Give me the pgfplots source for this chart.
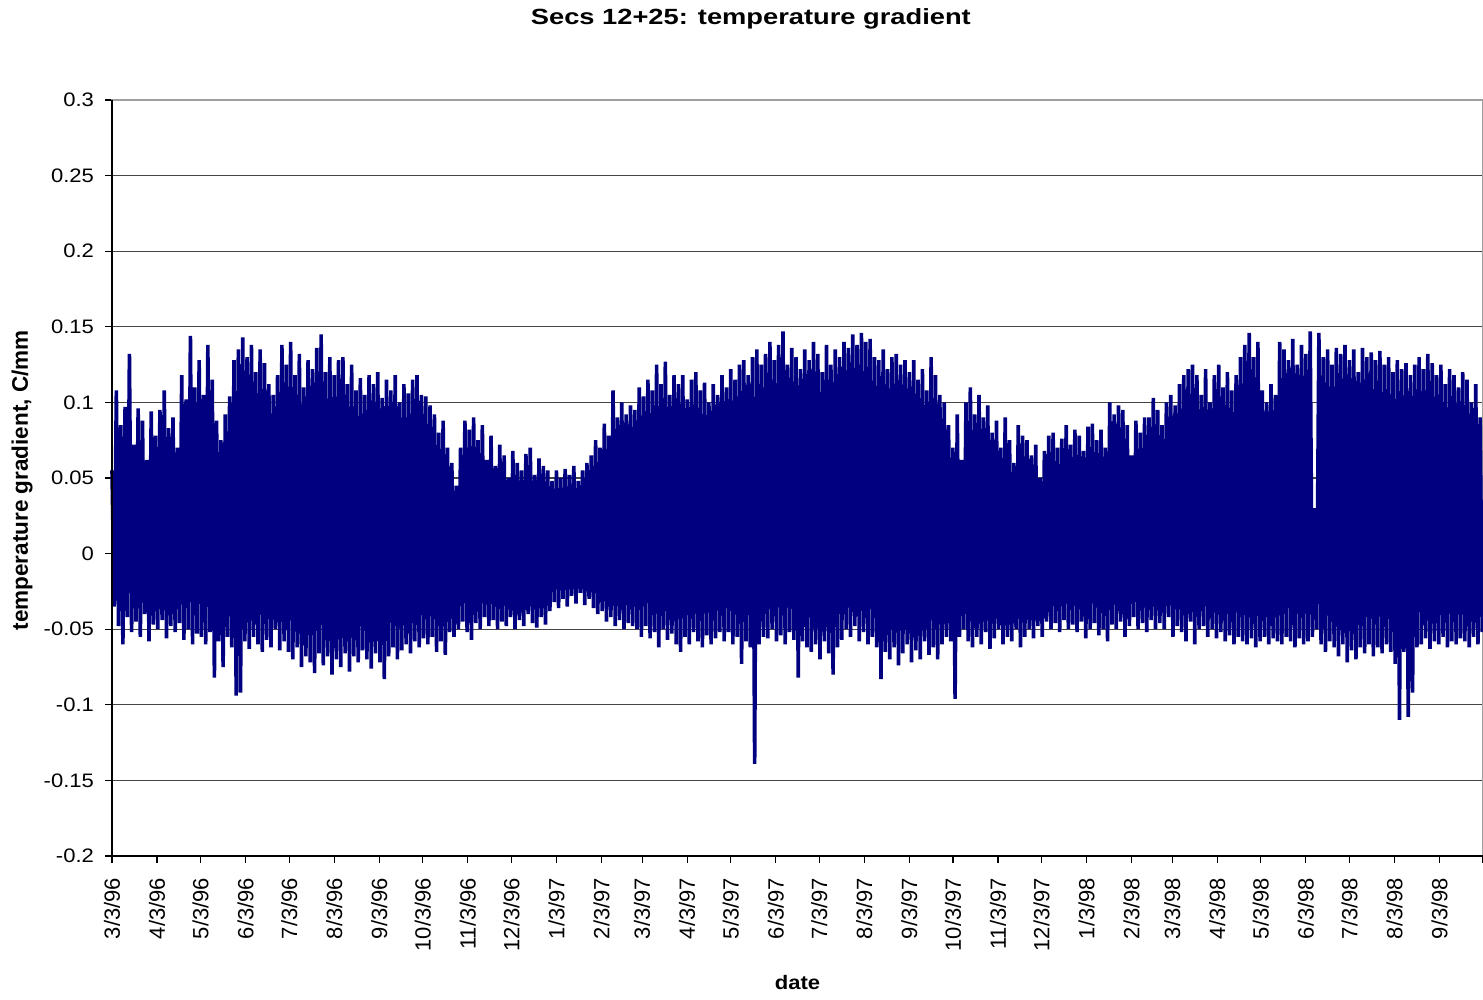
\documentclass[border=0pt]{standalone}
\usepackage{pgfplots}
\pgfplotsset{compat=1.18}
\usepackage{fontspec}
\setmainfont{Liberation Sans}
\newfontfamily\hfont{Liberation Sans}[FakeStretch=1.13]
\newfontfamily\ttlfont{Liberation Sans}[FakeStretch=1.24]
\definecolor{navy}{RGB}{0,0,128}
\definecolor{gridc}{RGB}{70,70,70}

\begin{document}
\begin{tikzpicture}
\useasboundingbox (0,0) rectangle (741.5pt,500pt);
\begin{axis}[
    at={(56pt,72pt)}, anchor=south west,
    scale only axis,
    width=685.5pt, height=378pt,
    xmin=0, xmax=944,
    ymin=-0.2, ymax=0.3,
    xtick={0,31,61,92,122,153,184,214,245,275,306,337,365,396,426,457,487,518,549,579,610,640,671,702,730,761,791,822,852,883,914,944},
    xticklabels={3/3/96,4/3/96,5/3/96,6/3/96,7/3/96,8/3/96,9/3/96,10/3/96,11/3/96,12/3/96,1/3/97,2/3/97,3/3/97,4/3/97,5/3/97,6/3/97,7/3/97,8/3/97,9/3/97,10/3/97,11/3/97,12/3/97,1/3/98,2/3/98,3/3/98,4/3/98,5/3/98,6/3/98,7/3/98,8/3/98,9/3/98,{}},
    ytick={-0.2,-0.15,-0.1,-0.05,0,0.05,0.1,0.15,0.2,0.25,0.3},
    yticklabels={-0.2,-0.15,-0.1,-0.05,0,0.05,0.1,0.15,0.2,0.25,0.3},
    tick align=outside, tick pos=left,
    major tick length=3.5pt,
    tick style={black, line width=0.6pt},
    xticklabel shift=4pt,
    yticklabel shift=2pt,
    ymajorgrids,
    major grid style={gridc, line width=0.55pt},
    axis line style={gray!75, line width=0.6pt},
    x tick label style={rotate=90, anchor=east, font=\fontsize{11}{11}\selectfont},
    y tick label style={font=\hfont\fontsize{9.75}{10}\selectfont},
    title={Secs 12+25: temperature gradient},
    title style={at={(axis description cs:0.466,1.108)}, anchor=center, yshift=-6.5pt, font=\ttlfont\bfseries\fontsize{11}{12}\selectfont},
    xlabel={date},
    xlabel style={at={(axis description cs:0.5,-0.168)}, anchor=center, font=\hfont\bfseries\fontsize{9.75}{10}\selectfont},
    ylabel={temperature gradient, C/mm},
    ylabel style={at={(axis description cs:-0.0656,0.497)}, anchor=center, font=\bfseries\fontsize{11.25}{12}\selectfont},
    clip=false,
]
% one value every 1.5 days, alternating daily high / low
\addplot[navy, line width=1.8pt, line join=bevel] table[x expr=\coordindex*1.5, y index=0, header=false, row sep=\\] {
0.055\\-0.035\\0.108\\-0.048\\0.085\\-0.06\\0.097\\-0.042\\0.132\\-0.052\\0.072\\-0.045\\0.096\\-0.055\\0.088\\-0.04\\0.062\\-0.058\\0.094\\-0.047\\
0.078\\-0.05\\0.095\\-0.044\\0.108\\-0.056\\0.083\\-0.048\\0.09\\-0.052\\0.07\\-0.046\\0.118\\-0.057\\0.102\\-0.05\\0.144\\-0.06\\0.11\\-0.053\\
0.128\\-0.055\\0.105\\-0.06\\0.138\\-0.052\\0.115\\-0.082\\0.088\\-0.058\\0.075\\-0.075\\0.092\\-0.055\\0.104\\-0.062\\0.128\\-0.094\\0.135\\-0.092\\
0.143\\-0.058\\0.13\\-0.063\\0.138\\-0.055\\0.12\\-0.06\\0.135\\-0.065\\0.126\\-0.057\\0.112\\-0.062\\0.105\\-0.05\\0.118\\-0.064\\0.138\\-0.058\\
0.125\\-0.065\\0.14\\-0.07\\0.118\\-0.062\\0.132\\-0.075\\0.11\\-0.068\\0.128\\-0.072\\0.122\\-0.079\\0.136\\-0.066\\0.145\\-0.074\\0.12\\-0.068\\
0.13\\-0.08\\0.118\\-0.07\\0.128\\-0.075\\0.13\\-0.066\\0.112\\-0.078\\0.125\\-0.068\\0.108\\-0.072\\0.116\\-0.064\\0.105\\-0.07\\0.118\\-0.076\\
0.112\\-0.066\\0.12\\-0.072\\0.103\\-0.083\\0.115\\-0.068\\0.108\\-0.062\\0.118\\-0.07\\0.1\\-0.064\\0.112\\-0.06\\0.106\\-0.066\\0.115\\-0.058\\
0.118\\-0.062\\0.105\\-0.056\\0.104\\-0.06\\0.098\\-0.055\\0.092\\-0.065\\0.08\\-0.058\\0.088\\-0.067\\0.07\\-0.052\\0.06\\-0.055\\0.045\\-0.05\\
0.07\\-0.045\\0.088\\-0.052\\0.082\\-0.057\\0.09\\-0.046\\0.075\\-0.05\\0.085\\-0.042\\0.062\\-0.048\\0.078\\-0.044\\0.058\\-0.05\\0.072\\-0.045\\
0.065\\-0.048\\0.05\\-0.042\\0.068\\-0.05\\0.06\\-0.044\\0.055\\-0.048\\0.066\\-0.04\\0.07\\-0.046\\0.052\\-0.049\\0.063\\-0.042\\0.058\\-0.047\\
0.055\\-0.038\\0.048\\-0.032\\0.055\\-0.036\\0.05\\-0.03\\0.056\\-0.035\\0.052\\-0.028\\0.058\\-0.033\\0.048\\-0.026\\0.055\\-0.034\\0.06\\-0.03\\
0.065\\-0.036\\0.075\\-0.04\\0.07\\-0.038\\0.086\\-0.045\\0.078\\-0.042\\0.108\\-0.048\\0.09\\-0.044\\0.1\\-0.05\\0.092\\-0.046\\0.098\\-0.048\\
0.095\\-0.05\\0.11\\-0.055\\0.104\\-0.048\\0.115\\-0.056\\0.108\\-0.052\\0.125\\-0.062\\0.112\\-0.05\\0.127\\-0.057\\0.105\\-0.053\\0.118\\-0.06\\
0.112\\-0.065\\0.118\\-0.055\\0.102\\-0.06\\0.115\\-0.052\\0.12\\-0.058\\0.108\\-0.062\\0.113\\-0.054\\0.1\\-0.06\\0.112\\-0.056\\0.105\\-0.052\\
0.118\\-0.058\\0.11\\-0.052\\0.122\\-0.06\\0.115\\-0.055\\0.125\\-0.073\\0.128\\-0.058\\0.118\\-0.062\\0.13\\-0.139\\0.135\\-0.06\\0.125\\-0.055\\
0.132\\-0.056\\0.14\\-0.05\\0.128\\-0.058\\0.138\\-0.054\\0.147\\-0.06\\0.125\\-0.052\\0.136\\-0.057\\0.13\\-0.082\\0.122\\-0.058\\0.135\\-0.062\\
0.128\\-0.065\\0.14\\-0.06\\0.132\\-0.07\\0.12\\-0.058\\0.138\\-0.066\\0.125\\-0.08\\0.135\\-0.062\\0.13\\-0.057\\0.14\\-0.05\\0.136\\-0.055\\
0.145\\-0.048\\0.138\\-0.058\\0.146\\-0.052\\0.14\\-0.06\\0.142\\-0.055\\0.13\\-0.062\\0.128\\-0.083\\0.135\\-0.065\\0.122\\-0.07\\0.13\\-0.062\\
0.132\\-0.074\\0.125\\-0.066\\0.128\\-0.06\\0.12\\-0.072\\0.128\\-0.064\\0.115\\-0.07\\0.122\\-0.058\\0.108\\-0.067\\0.13\\-0.062\\0.118\\-0.07\\
0.105\\-0.06\\0.1\\-0.055\\0.085\\-0.058\\0.07\\-0.096\\0.092\\-0.055\\0.062\\-0.05\\0.1\\-0.058\\0.11\\-0.062\\0.092\\-0.055\\0.105\\-0.06\\
0.09\\-0.052\\0.098\\-0.063\\0.08\\-0.056\\0.088\\-0.05\\0.07\\-0.06\\0.09\\-0.055\\0.075\\-0.058\\0.06\\-0.05\\0.085\\-0.062\\0.078\\-0.055\\
0.075\\-0.05\\0.065\\-0.056\\0.072\\-0.048\\0.05\\-0.055\\0.068\\-0.045\\0.078\\-0.05\\0.08\\-0.046\\0.07\\-0.052\\0.076\\-0.044\\0.085\\-0.05\\
0.072\\-0.047\\0.082\\-0.052\\0.078\\-0.045\\0.068\\-0.056\\0.084\\-0.05\\0.086\\-0.046\\0.075\\-0.054\\0.082\\-0.05\\0.07\\-0.058\\0.1\\-0.047\\
0.092\\-0.05\\0.098\\-0.045\\0.095\\-0.055\\0.085\\-0.048\\0.065\\-0.042\\0.088\\-0.05\\0.08\\-0.046\\0.09\\-0.052\\0.09\\-0.044\\0.103\\-0.05\\
0.095\\-0.046\\0.085\\-0.05\\0.1\\-0.042\\0.105\\-0.055\\0.098\\-0.048\\0.112\\-0.052\\0.118\\-0.058\\0.122\\-0.045\\0.125\\-0.06\\0.118\\-0.05\\
0.105\\-0.048\\0.122\\-0.055\\0.1\\-0.05\\0.118\\-0.056\\0.125\\-0.052\\0.11\\-0.058\\0.12\\-0.054\\0.108\\-0.06\\0.118\\-0.055\\0.13\\-0.058\\
0.138\\-0.06\\0.146\\-0.056\\0.13\\-0.062\\0.14\\-0.058\\0.108\\-0.055\\0.1\\-0.06\\0.112\\-0.056\\0.105\\-0.058\\0.14\\-0.06\\0.135\\-0.055\\
0.128\\-0.058\\0.142\\-0.062\\0.125\\-0.056\\0.138\\-0.06\\0.132\\-0.058\\0.147\\-0.055\\0.03\\-0.05\\0.146\\-0.06\\0.13\\-0.065\\0.135\\-0.058\\
0.125\\-0.062\\0.136\\-0.068\\0.132\\-0.06\\0.138\\-0.072\\0.128\\-0.064\\0.135\\-0.07\\0.12\\-0.062\\0.136\\-0.066\\0.13\\-0.06\\0.133\\-0.068\\
0.128\\-0.062\\0.134\\-0.066\\0.125\\-0.06\\0.13\\-0.065\\0.12\\-0.073\\0.128\\-0.11\\0.122\\-0.065\\0.126\\-0.108\\0.118\\-0.092\\0.125\\-0.062\\
0.13\\-0.06\\0.122\\-0.056\\0.132\\-0.063\\0.126\\-0.058\\0.118\\-0.06\\0.125\\-0.055\\0.112\\-0.062\\0.122\\-0.058\\0.118\\-0.06\\0.11\\-0.056\\
0.12\\-0.058\\0.115\\-0.062\\0.1\\-0.055\\0.112\\-0.06\\0.09\\-0.052\\
};
\draw[black, line width=0.75pt] (rel axis cs:0,1) -- (rel axis cs:0,0) -- (rel axis cs:1,0);
\end{axis}
\end{tikzpicture}
\end{document}
